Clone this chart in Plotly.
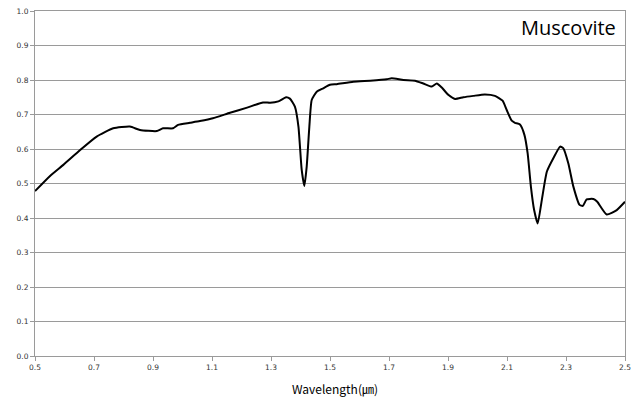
import plotly.graph_objects as go

wavelength = [0.500, 0.551, 0.596, 0.653, 0.709, 0.765, 0.822, 0.856, 0.913, 0.934,
              0.968, 0.985, 1.025, 1.059, 1.103, 1.161, 1.219, 1.273, 1.297, 1.325,
              1.351, 1.364, 1.381, 1.393, 1.404, 1.413, 1.421, 1.430, 1.438, 1.455,
              1.477, 1.500, 1.523, 1.579, 1.636, 1.692, 1.709, 1.749, 1.788, 1.816,
              1.845, 1.862, 1.879, 1.901, 1.924, 1.952, 1.986, 2.025, 2.059, 2.085,
              2.099, 2.116, 2.127, 2.144, 2.159, 2.170, 2.181, 2.192, 2.204, 2.218,
              2.235, 2.257, 2.280, 2.291, 2.308, 2.325, 2.346, 2.357, 2.370, 2.393,
              2.406, 2.438, 2.472, 2.500]
reflectance = [0.478, 0.522, 0.554, 0.597, 0.636, 0.660, 0.665, 0.655, 0.652, 0.660,
               0.660, 0.670, 0.676, 0.681, 0.689, 0.705, 0.720, 0.735, 0.734, 0.738,
               0.750, 0.746, 0.723, 0.665, 0.540, 0.493, 0.549, 0.665, 0.742, 0.766,
               0.776, 0.786, 0.788, 0.795, 0.798, 0.802, 0.805, 0.800, 0.798, 0.790,
               0.781, 0.790, 0.778, 0.757, 0.745, 0.750, 0.754, 0.758, 0.754, 0.740,
               0.713, 0.682, 0.676, 0.671, 0.641, 0.587, 0.491, 0.423, 0.384, 0.452,
               0.534, 0.573, 0.607, 0.602, 0.558, 0.491, 0.438, 0.435, 0.454, 0.455,
               0.447, 0.410, 0.423, 0.447]

x_ticks = [0.5, 0.7, 0.9, 1.1, 1.3, 1.5, 1.7, 1.9, 2.1, 2.3, 2.5]
y_ticks = [0.0, 0.1, 0.2, 0.3, 0.4, 0.5, 0.6, 0.7, 0.8, 0.9, 1.0]

title_text = "Muscovite"
x_title = "Wavelength(㎛)"

fig = go.Figure()
fig.add_trace(go.Scatter(
    x=wavelength, y=reflectance, mode="lines",
    line=dict(color="black", width=2, shape="spline", smoothing=0.5),
    showlegend=False, hoverinfo="skip"))

grey = "#9a9a9a"
tickfont = dict(family="DejaVu Sans", size=7.5, color="#333333")

fig.update_layout(
    width=632, height=399,
    margin=dict(l=35, r=7, t=11, b=43),
    paper_bgcolor="white", plot_bgcolor="white",
    xaxis=dict(range=[0.5, 2.5], tickvals=x_ticks,
               ticktext=[f"{v:.1f}" for v in x_ticks], automargin=False,
               showgrid=False, zeroline=False, showline=True, linecolor=grey,
               linewidth=1, mirror=True, ticks="outside", ticklen=4,
               tickcolor=grey, tickfont=tickfont),
    yaxis=dict(range=[0, 1.0], tickvals=y_ticks,
               ticktext=[f"{v:.1f}" for v in y_ticks], automargin=False,
               showgrid=True, gridcolor=grey, gridwidth=1, zeroline=False,
               showline=True, linecolor=grey, linewidth=1, mirror=True,
               ticks="outside", ticklen=4, tickcolor=grey, tickfont=tickfont),
    annotations=[
        dict(text=title_text, xref="paper", yref="paper", x=0.988, y=0.951,
             xanchor="right", yanchor="middle", showarrow=False,
             font=dict(family="Open Sans", size=20, color="black")),
        dict(text=x_title, xref="paper", yref="paper", x=0.508, y=-0.093,
             xanchor="center", yanchor="middle", showarrow=False,
             font=dict(family="Noto Sans CJK KR", size=12, color="black")),
    ],
)

fig.write_html("out.html", config={"displayModeBar": False},
               post_script="document.body.style.margin='0';")
